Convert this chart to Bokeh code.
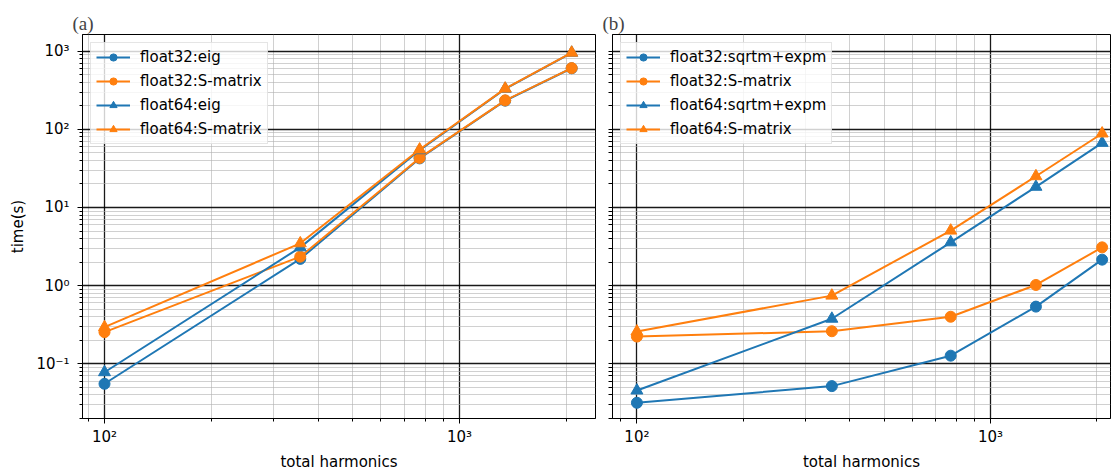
from bokeh.plotting import figure
from bokeh.layouts import row
from bokeh.models import FixedTicker, Range1d
from bokeh.embed import file_html
from bokeh.resources import INLINE

# ---------------- data ----------------
harmonics = [100, 356, 772, 1345, 2070]

# panel (a)
a_f32_eig = [0.0555, 2.2, 42.5, 233, 605]
a_f32_smat = [0.254, 2.35, 43.1, 235, 608]
a_f64_eig = [0.078, 3.09, 54, 330, 955]
a_f64_smat = [0.294, 3.48, 55.2, 332, 958]

# panel (b)
b_f32_sqrtm = [0.0317, 0.0518, 0.127, 0.539, 2.15]
b_f32_smat = [0.223, 0.261, 0.40, 1.02, 3.09]
b_f64_sqrtm = [0.0455, 0.377, 3.58, 18.4, 67.1]
b_f64_smat = [0.259, 0.745, 5.06, 25.1, 88.5]

# ticks
y_major = [0.01, 0.1, 1, 10, 100, 1000, 10000]
y_labels = ["10⁻²", "10⁻¹", "10⁰", "10¹", "10²", "10³", "10⁴"]
x_major = [10, 100, 1000, 10000]
x_labels = ["10¹", "10²", "10³", "10⁴"]

BLUE = "#1f77b4"
ORANGE = "#ff7f0e"
FONT = "DejaVu Sans"
FS = "15px"


def minor_of(majors):
    return [m * k for m in majors for k in range(2, 10)]


def make_fig(title, width, border_left, border_right, xr, show_ylabels, series):
    p = figure(width=width, height=474, x_axis_type="log", y_axis_type="log",
               output_backend="svg", toolbar_location=None,
               x_range=Range1d(*xr), y_range=Range1d(0.01995, 1636),
               min_border_left=border_left, min_border_right=border_right,
               min_border_top=34, min_border_bottom=56,
               title=title)
    p.title.text_font = "Liberation Serif"
    p.title.text_font_size = "19px"
    p.title.text_font_style = "normal"
    p.title.align = "left"
    p.title.offset = -10
    p.title.standoff = 2
    p.outline_line_color = "black"
    p.outline_line_width = 1
    p.outline_line_alpha = 1
    p.background_fill_color = "white"
    p.border_fill_color = "white"

    xt = FixedTicker(ticks=x_major, minor_ticks=minor_of(x_major))
    yt = FixedTicker(ticks=y_major, minor_ticks=minor_of(y_major))
    p.xaxis.ticker = xt
    p.xgrid.ticker = xt
    p.ygrid.ticker = yt
    p.xaxis.major_label_overrides = dict(zip(x_major, x_labels))
    if show_ylabels:
        p.yaxis.ticker = yt
        p.yaxis.major_label_overrides = dict(zip(y_major, y_labels))
    else:
        # shared y axis: tick marks only, no labels
        p.yaxis.ticker = FixedTicker(ticks=[], minor_ticks=y_major + minor_of(y_major))

    for ax in (p.xaxis, p.yaxis):
        ax.axis_line_color = "black"
        ax.major_tick_line_color = "black"
        ax.minor_tick_line_color = "black"
        ax.major_tick_out = 5
        ax.major_tick_in = 0
        ax.minor_tick_out = 3
        ax.minor_tick_in = 0
        ax.major_label_text_font = FONT
        ax.major_label_text_font_size = FS
        ax.major_label_text_color = "black"
        ax.axis_label_text_font = FONT
        ax.axis_label_text_font_size = FS
        ax.axis_label_text_font_style = "normal"
        ax.axis_label_text_color = "black"

    p.xaxis.axis_label = "total harmonics"
    p.xaxis.major_label_standoff = 4
    p.xaxis.axis_label_standoff = 4
    if show_ylabels:
        p.yaxis.major_label_standoff = 8
        p.yaxis.axis_label = "time(s)"
        p.yaxis.axis_label_standoff = 6
    else:
        p.yaxis.minor_tick_out = 4

    for g in (p.xgrid, p.ygrid):
        g.grid_line_color = "black"
        g.grid_line_width = 1.3
        g.grid_line_alpha = 0.9
        g.minor_grid_line_color = "#b0b0b0"
        g.minor_grid_line_width = 1
        g.minor_grid_line_alpha = 0.6

    for label, ys, color, marker in series:
        p.line(harmonics, ys, line_color=color, line_width=2, legend_label=label)
        p.scatter(harmonics, ys, marker=marker, size=11 if marker == "circle" else 12,
                  fill_color=color, line_color=color, legend_label=label)

    lg = p.legend[0]
    lg.location = "top_left"
    lg.margin = 8
    lg.padding = 5
    lg.spacing = 6
    lg.label_height = 18
    lg.glyph_height = 18
    lg.glyph_width = 34
    lg.label_standoff = 10
    lg.label_text_font = FONT
    lg.label_text_font_size = FS
    lg.label_text_color = "black"
    lg.border_line_color = "#cccccc"
    lg.border_line_width = 1
    lg.background_fill_color = "white"
    lg.background_fill_alpha = 0.8
    return p


p1 = make_fig("(a)", 600, 82, 5, (86.7, 2416), True, [
    ("float32:eig", a_f32_eig, BLUE, "circle"),
    ("float32:S-matrix", a_f32_smat, ORANGE, "circle"),
    ("float64:eig", a_f64_eig, BLUE, "triangle"),
    ("float64:S-matrix", a_f64_smat, ORANGE, "triangle"),
])

p2 = make_fig("(b)", 516, 12, 6, (85.3, 2186), False, [
    ("float32:sqrtm+expm", b_f32_sqrtm, BLUE, "circle"),
    ("float32:S-matrix", b_f32_smat, ORANGE, "circle"),
    ("float64:sqrtm+expm", b_f64_sqrtm, BLUE, "triangle"),
    ("float64:S-matrix", b_f64_smat, ORANGE, "triangle"),
])

layout = row(p1, p2)
open("out.html", "w").write(file_html(layout, INLINE))
